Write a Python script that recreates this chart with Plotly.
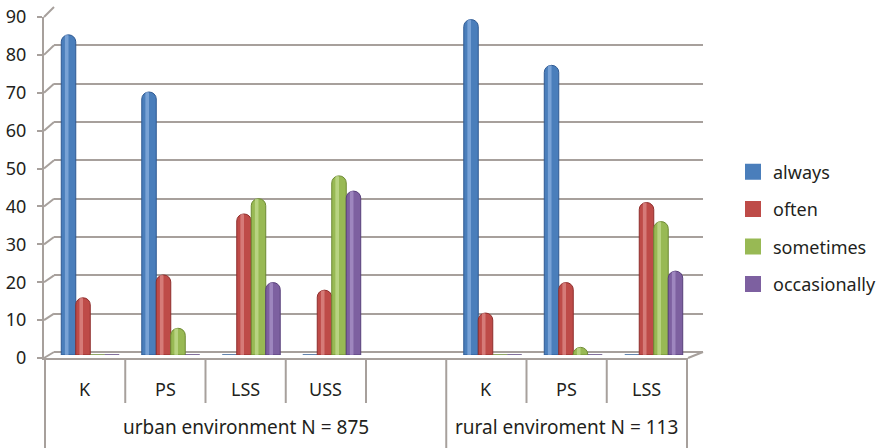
import plotly.graph_objects as go

# ---- data -------------------------------------------------------------
groups = ["urban environment N = 875"] * 5 + ["rural enviroment N = 113"] * 3
levels = ["K", "PS", "LSS", "USS", " ", "K", "PS", "LSS"]

always = [84, 69, 0, 0, None, 88, 76, 0]
often = [15, 21, 37, 17, None, 11, 19, 40]
sometimes = [0, 7, 41, 47, None, 0, 2, 35]
occasionally = [0, 0, 19, 43, None, 0, 0, 22]

series_names = ["always", "often", "sometimes", "occasionally"]
series_values = [always, often, sometimes, occasionally]
fill_colors = ["#4a7ebb", "#be4b48", "#98b954", "#7d60a0"]
edge_colors = ["#2f5a93", "#8f2e2c", "#6d8a33", "#58407a"]
shine_colors = ["#9fc0ec", "#eaa3a0", "#d3eaa6", "#b9a5d8"]

y_ticks = list(range(0, 100, 10))

# ---- geometry (pixels of the 885 x 448 canvas) -----------------------
W, H = 885, 448
FONT = "Noto Sans"
TEXT = "#231f20"
GRID = "#a7a09c"


def px_x(p):
    return p / W


def px_y(p):
    return (H - p) / H


# front plane (axis line, ticks, category labels)
front_x = [px_x(44), px_x(688)]
front_y = [px_y(358), px_y(17)]
# back wall (gridlines)
back_x = [px_x(54), px_x(703)]
back_y = [px_y(352), px_y(7)]
# bar plane, halfway in depth
bar_x = [px_x(50), px_x(694)]
bar_y = [px_y(355), px_y(12)]

fig = go.Figure()

x_cat = [groups, levels]

# cylinders: body plus a narrow sheen drawn from the same values
n_series = len(series_names)
bar_w = 0.18
start = -bar_w * n_series / 2
for k, (name, vals, fc, ec, sc) in enumerate(
        zip(series_names, series_values, fill_colors, edge_colors, shine_colors)):
    off = start + k * bar_w
    fig.add_trace(go.Bar(
        x=x_cat, y=vals, name=name, offset=off, width=bar_w,
        marker=dict(color=fc, line=dict(color=ec, width=1), cornerradius=7),
        xaxis="x3", yaxis="y3", showlegend=False,
    ))
    fig.add_trace(go.Bar(
        x=x_cat, y=vals, name=name, offset=off + 0.045, width=0.045,
        marker=dict(color=sc, line=dict(width=0), cornerradius=2),
        opacity=0.55, xaxis="x3", yaxis="y3", showlegend=False,
        hoverinfo="skip",
    ))

# category axis holder on the front plane
fig.add_trace(go.Scatter(x=x_cat, y=[None] * len(levels), mode="markers",
                         showlegend=False, hoverinfo="skip"))
# back wall holder
fig.add_trace(go.Scatter(x=[0, 1], y=[None, None], mode="markers",
                         xaxis="x2", yaxis="y2", showlegend=False, hoverinfo="skip"))

# legend entries
for name, fc in zip(series_names, fill_colors):
    fig.add_trace(go.Scatter(
        x=[None], y=[None], mode="markers", name=name, legendgroup=name,
        marker=dict(symbol="square", size=16, color=fc),
    ))

shapes = []
# perspective connectors between front ticks and back gridlines
for v in y_ticks:
    fy = front_y[0] + v / 90 * (front_y[1] - front_y[0])
    by = back_y[0] + v / 90 * (back_y[1] - back_y[0])
    shapes.append(dict(type="line", xref="paper", yref="paper",
                       x0=front_x[0], y0=fy, x1=back_x[0], y1=by,
                       line=dict(color=GRID, width=2)))
# right edge of the floor
shapes.append(dict(type="line", xref="paper", yref="paper",
                   x0=front_x[1], y0=front_y[0], x1=back_x[1], y1=back_y[0],
                   line=dict(color=GRID, width=2)))

# separators: short ones between categories, long ones between groups
n = len(levels)
for i in range(0, n + 1):
    edge = i == 0 or i == n or groups[i] != groups[i - 1]
    shapes.append(dict(type="line", xref="x", yref="paper",
                       x0=i - 0.5, x1=i - 0.5, y0=px_y(358),
                       y1=0 if edge else px_y(403),
                       line=dict(color=GRID, width=2)))

annotations = []
for i, lab in enumerate(levels):
    annotations.append(dict(x=i, xref="x", y=px_y(389), yref="paper",
                            text=lab, showarrow=False, yanchor="middle",
                            font=dict(size=18, color=TEXT)))
seen = []
for g in groups:
    if g not in seen:
        seen.append(g)
for g in seen:
    idx = [i for i, gg in enumerate(groups) if gg == g]
    annotations.append(dict(x=(idx[0] + idx[-1]) / 2, xref="x", y=px_y(427),
                            yref="paper", text=g, showarrow=False,
                            yanchor="middle", font=dict(size=19, color=TEXT)))

fig.update_layout(
    width=W, height=H,
    margin=dict(l=0, r=0, t=0, b=0),
    paper_bgcolor="white", plot_bgcolor="rgba(0,0,0,0)",
    font=dict(family=FONT, size=18, color=TEXT),
    barmode="overlay",
    shapes=shapes, annotations=annotations,
    xaxis=dict(domain=front_x, type="multicategory", anchor="y",
               showline=True, linecolor=GRID, linewidth=2,
               ticks="", showgrid=False, showdividers=False,
               showticklabels=False, automargin=False),
    yaxis=dict(domain=front_y, range=[0, 90], anchor="x",
               tickvals=y_ticks, showgrid=False, zeroline=False,
               showline=True, linecolor=GRID, linewidth=2,
               ticks="outside", ticklen=5, tickcolor=GRID, tickwidth=2,
               ticklabelstandoff=7, automargin=False,
               tickfont=dict(size=18, color=TEXT)),
    xaxis2=dict(domain=back_x, range=[0, 1], anchor="y2", visible=False),
    yaxis2=dict(domain=back_y, range=[0, 90], anchor="x2",
                tickvals=y_ticks, showgrid=True, gridcolor=GRID, gridwidth=2,
                zeroline=True, zerolinecolor=GRID, zerolinewidth=2,
                showticklabels=False, ticks=""),
    xaxis3=dict(domain=bar_x, type="multicategory", anchor="y3", visible=False),
    yaxis3=dict(domain=bar_y, range=[0, 90], anchor="x3", visible=False),
    legend=dict(x=px_x(733), y=px_y(228), xanchor="left", yanchor="middle",
                font=dict(size=18, color=TEXT), tracegroupgap=11,
                itemsizing="trace", bgcolor="rgba(0,0,0,0)"),
)

fig.write_html("out.html")
